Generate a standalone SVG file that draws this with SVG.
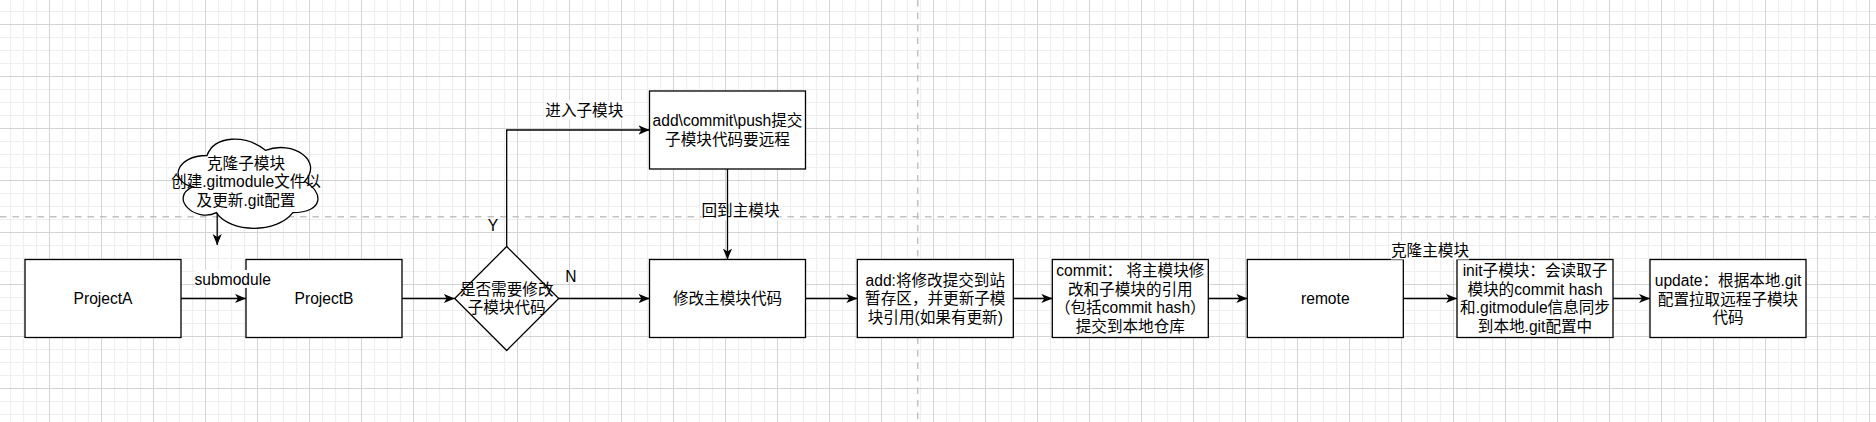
<svg xmlns="http://www.w3.org/2000/svg" width="1876" height="422" viewBox="0 0 1876 422">
<style>
.n{fill:#fff;stroke:#000;stroke-width:1.3}
.t{font-family:"Liberation Sans","Noto Sans CJK SC",sans-serif;font-size:15.6px;fill:#000;text-anchor:middle}
.e{fill:none;stroke:#000;stroke-width:1.3;marker-end:url(#arr)}
.pb{fill:none;stroke:#c2c2c2;stroke-width:1.5;stroke-dasharray:6.5 6}
.lb{fill:#fff}
</style>
<defs>
<pattern id="grid" width="52" height="52" patternUnits="userSpaceOnUse" x="49" y="24">
<rect width="52" height="52" fill="#fff"/>
<path d="M13.5 0V52M26.5 0V52M39.5 0V52M0 13.5H52M0 26.5H52M0 39.5H52" stroke="#efefef" stroke-width="1.2"/>
<path d="M0.5 0V52M0 0.5H52" stroke="#d4d4d4" stroke-width="1"/>
</pattern>
<marker id="arr" viewBox="0 0 11 10" refX="11" refY="5" markerWidth="11" markerHeight="10" orient="auto" markerUnits="userSpaceOnUse">
<path d="M0 0.4L11 5L0 9.6L3 5Z" fill="#000"/>
</marker>
</defs>
<rect width="1876" height="422" fill="url(#grid)"/>
<g id="page-breaks">
<path class="pb" d="M917.7 0V422"/>
<path class="pb" d="M0 216.7H1876"/>
</g>
<g id="nodes">
<g id="projectA"><rect class="n" x="25" y="259.5" width="156" height="78"/><text class="t" x="103" y="304">ProjectA</text></g>
<g id="projectB"><rect class="n" x="246" y="259.5" width="156" height="78"/><text class="t" x="324" y="304">ProjectB</text></g>
<g id="cloud"><path class="n" d="M207 155.5C175.8 155.5 168 181.5 192.96 186.7C168 198.14 196.08 223.1 216.36 212.7C230.4 233.5 277.2 233.5 292.8 212.7C324 212.7 324 191.9 304.5 181.5C324 160.7 292.8 139.9 265.5 150.3C246 134.7 214.8 134.7 207 155.5Z"/>
<text class="t" x="246" y="168.5">克隆子模块</text><text class="t" x="246" y="187.2">创建.gitmodule文件以</text><text class="t" x="246" y="205.9">及更新.git配置</text></g>
<g id="decision"><path class="n" d="M506.7 246.5L558.7 298.5L506.7 350.5L454.7 298.5Z"/>
<text class="t" x="506.7" y="295">是否需要修改</text><text class="t" x="506.7" y="312.8">子模块代码</text></g>
<g id="push"><rect class="n" x="649.5" y="91" width="156" height="78"/>
<text class="t" x="727.5" y="126.2">add\commit\push提交</text><text class="t" x="727.5" y="144.9">子模块代码要远程</text></g>
<g id="modify"><rect class="n" x="649.5" y="259.5" width="156" height="78"/><text class="t" x="727.5" y="304">修改主模块代码</text></g>
<g id="add"><rect class="n" x="857.3" y="259.5" width="156" height="78"/>
<text class="t" x="935.3" y="285.8">add:将修改提交到站</text><text class="t" x="935.3" y="304">暂存区，并更新子模</text><text class="t" x="935.3" y="322.7">块引用(如果有更新)</text></g>
<g id="commit"><rect class="n" x="1052.3" y="259.5" width="156" height="78"/>
<text class="t" x="1130.3" y="276">commit： 将主模块修</text><text class="t" x="1130.3" y="294.7">改和子模块的引用</text><text class="t" x="1130.3" y="313.4">（包括commit hash）</text><text class="t" x="1130.3" y="332.1">提交到本地仓库</text></g>
<g id="remote"><rect class="n" x="1247.3" y="259.5" width="156" height="78"/><text class="t" x="1325.3" y="304">remote</text></g>
<g id="init"><rect class="n" x="1457" y="259.5" width="156" height="78"/>
<text class="t" x="1535" y="276">init子模块：会读取子</text><text class="t" x="1535" y="294.7">模块的commit hash</text><text class="t" x="1535" y="313.4">和.gitmodule信息同步</text><text class="t" x="1535" y="332.1">到本地.git配置中</text></g>
<g id="update"><rect class="n" x="1650" y="259.5" width="156" height="78"/>
<text class="t" x="1728" y="285.8">update：根据本地.git</text><text class="t" x="1728" y="304.5">配置拉取远程子模块</text><text class="t" x="1728" y="323.2">代码</text></g>
</g>
<g id="label-backgrounds">
<rect class="lb" x="195" y="270" width="76" height="18"/>
<rect class="lb" x="545.3" y="100.5" width="78" height="19"/>
<rect class="lb" x="701.5" y="201.2" width="78" height="19"/>
<rect class="lb" x="1391" y="240.5" width="78" height="19"/>
</g>
<g id="connectors">
<path class="e" d="M217.2 212.7V245"/>
<path class="e" d="M181 298.5H246"/>
<path class="e" d="M402 298.5H454.7"/>
<path class="e" d="M506.7 246.5V130H649.5"/>
<path class="e" d="M558.7 298.5H649.5"/>
<path class="e" d="M727.5 169V259.5"/>
<path class="e" d="M805.5 298.5H857.3"/>
<path class="e" d="M1013.3 298.5H1052.3"/>
<path class="e" d="M1208.3 298.5H1247.3"/>
<path class="e" d="M1403.3 298.5H1457"/>
<path class="e" d="M1613 298.5H1650"/>
</g>
<g id="edge-labels">
<text class="t" x="232.7" y="284.5">submodule</text>
<text class="t" x="584.3" y="115.6">进入子模块</text>
<text class="t" x="740.5" y="216.3">回到主模块</text>
<text class="t" x="1430" y="255.6">克隆主模块</text>
<text class="t" x="493" y="230.5">Y</text>
<text class="t" x="571" y="281.5">N</text>
</g>
</svg>
